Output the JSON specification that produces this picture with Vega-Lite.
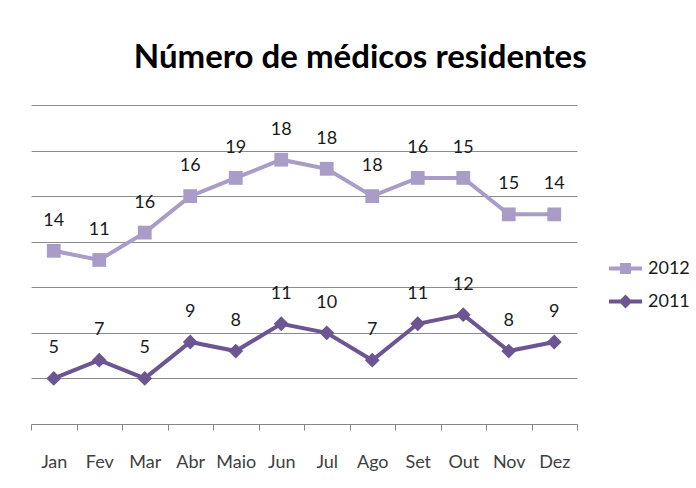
{
  "$schema": "https://vega.github.io/schema/vega-lite/v6.json",
  "width": 546,
  "height": 319,
  "autosize": {"type": "none"},
  "padding": {"left": 31, "top": 105, "right": 119, "bottom": 64},
  "background": "white",
  "title": {
    "text": "Número de médicos residentes",
    "font": "Lato",
    "fontSize": 33,
    "fontWeight": "bold",
    "color": "#000000",
    "anchor": "middle",
    "frame": "bounds",
    "offset": 30
  },
  "config": {
    "view": {"stroke": null},
    "font": "Lato"
  },
  "data": {
    "values": [
      {"month": "Jan", "series": "2011", "value": 5},
      {"month": "Fev", "series": "2011", "value": 7},
      {"month": "Mar", "series": "2011", "value": 5},
      {"month": "Abr", "series": "2011", "value": 9},
      {"month": "Maio", "series": "2011", "value": 8},
      {"month": "Jun", "series": "2011", "value": 11},
      {"month": "Jul", "series": "2011", "value": 10},
      {"month": "Ago", "series": "2011", "value": 7},
      {"month": "Set", "series": "2011", "value": 11},
      {"month": "Out", "series": "2011", "value": 12},
      {"month": "Nov", "series": "2011", "value": 8},
      {"month": "Dez", "series": "2011", "value": 9},
      {"month": "Jan", "series": "2012", "value": 14},
      {"month": "Fev", "series": "2012", "value": 11},
      {"month": "Mar", "series": "2012", "value": 16},
      {"month": "Abr", "series": "2012", "value": 16},
      {"month": "Maio", "series": "2012", "value": 19},
      {"month": "Jun", "series": "2012", "value": 18},
      {"month": "Jul", "series": "2012", "value": 18},
      {"month": "Ago", "series": "2012", "value": 18},
      {"month": "Set", "series": "2012", "value": 16},
      {"month": "Out", "series": "2012", "value": 15},
      {"month": "Nov", "series": "2012", "value": 15},
      {"month": "Dez", "series": "2012", "value": 14}
    ]
  },
  "transform": [
    {"stack": "value", "groupby": ["month"], "sort": [{"field": "series", "order": "ascending"}], "as": ["y0", "y1"]}
  ],
  "encoding": {
    "x": {
      "field": "month",
      "type": "ordinal",
      "sort": ["Jan", "Fev", "Mar", "Abr", "Maio", "Jun", "Jul", "Ago", "Set", "Out", "Nov", "Dez"],
      "scale": {"type": "band", "paddingInner": 0, "paddingOuter": 0},
      "axis": {
        "title": null,
        "labelAngle": 0,
        "labelFontSize": 18,
        "labelColor": "#404040",
        "labelPadding": 23,
        "domainColor": "#868686",
        "tickColor": "#868686",
        "tickSize": 6,
        "tickBand": "extent",
        "grid": false
      }
    },
    "y": {
      "field": "y1",
      "type": "quantitative",
      "scale": {"domain": [0, 35], "nice": false, "zero": true},
      "axis": {
        "title": null,
        "labels": false,
        "ticks": false,
        "domain": false,
        "grid": true,
        "gridColor": "#8c8c8c",
        "gridWidth": 1,
        "values": [5, 10, 15, 20, 25, 30, 35]
      }
    },
    "color": {
      "field": "series",
      "type": "nominal",
      "scale": {"domain": ["2012", "2011"], "range": ["#A99CC6", "#6B5592"]},
      "legend": {
        "title": null,
        "orient": "none",
        "legendX": 578,
        "legendY": 147,
        "symbolSize": 1089,
        "symbolType": "M-1,-0.12H-0.33V-0.33H0.33V-0.12H1V0.12H0.33V0.33H-0.33V0.12H-1Z",
        "labelFontSize": 18,
        "labelColor": "#1a1a1a",
        "labelOffset": 6,
        "rowPadding": 7,
        "encode": {
          "symbols": {
            "update": {
              "shape": {"signal": "datum.value === '2012' ? 'M-1,-0.12H-0.33V-0.33H0.33V-0.12H1V0.12H0.33V0.33H-0.33V0.12H-1Z' : 'M-1,-0.12H-0.3L0,-0.42L0.3,-0.12H1V0.12H0.3L0,0.42L-0.3,0.12H-1Z'"},
              "fill": {"scale": "color", "field": "value"},
              "stroke": {"value": "transparent"},
              "strokeWidth": {"value": 0},
              "opacity": {"value": 1},
              "fillOpacity": {"value": 1}
            }
          }
        }
      }
    }
  },
  "layer": [
    {
      "mark": {"type": "line", "strokeWidth": 4}
    },
    {
      "transform": [{"filter": "datum.series === '2012'"}],
      "mark": {"type": "point", "filled": true, "opacity": 1, "size": 190, "shape": "square"}
    },
    {
      "transform": [{"filter": "datum.series === '2011'"}],
      "mark": {"type": "point", "filled": true, "opacity": 1, "size": 220, "shape": "diamond"}
    },
    {
      "mark": {"type": "text", "dy": -30, "fontSize": 18, "color": "#1a1a1a"},
      "encoding": {
        "text": {"field": "value", "type": "quantitative"},
        "color": {"value": "#1a1a1a"}
      }
    }
  ]
}
